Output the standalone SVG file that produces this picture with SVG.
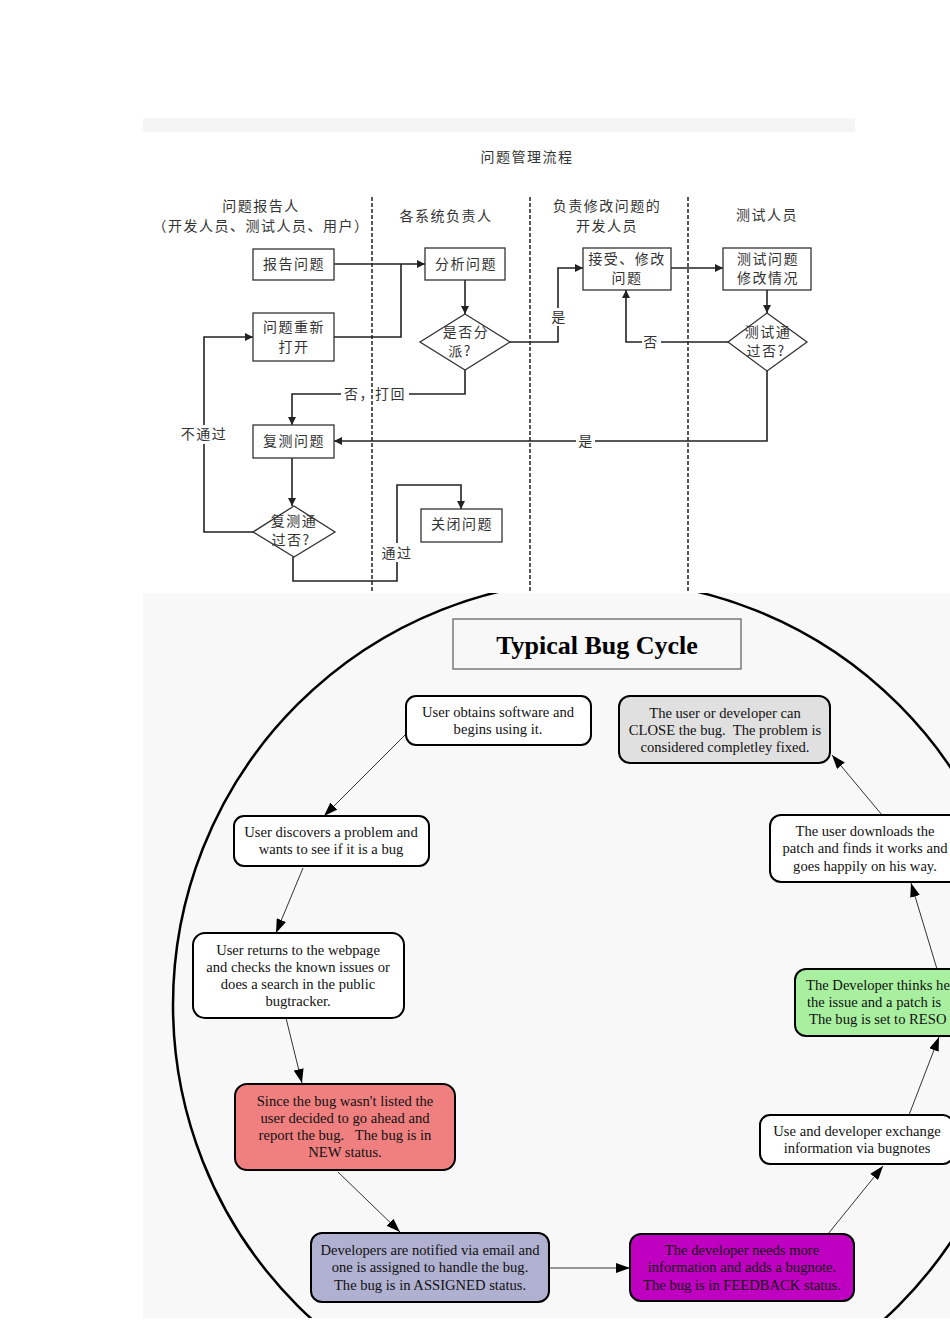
<svg xmlns="http://www.w3.org/2000/svg" width="950" height="1344" viewBox="0 0 950 1344">
<defs>
<marker id="fa" viewBox="0 0 8 8" refX="8" refY="4" markerWidth="8" markerHeight="8" markerUnits="userSpaceOnUse" orient="auto"><path d="M0,0 L8,4 L0,8 z" fill="#222"/></marker>
<marker id="ba" viewBox="0 0 14 10" refX="14" refY="5" markerWidth="14" markerHeight="10" markerUnits="userSpaceOnUse" orient="auto"><path d="M0,0 L14,5 L0,10 z" fill="#000"/></marker>
<clipPath id="bclip"><rect x="143" y="593" width="807" height="725"/></clipPath>
</defs>
<style>
.zh{font-family:"Noto Sans CJK SC","Noto Sans",sans-serif;font-size:14px;fill:#333;letter-spacing:1.5px}
.box{fill:#fff;stroke:#333;stroke-width:1.3}
.fl{fill:none;stroke:#222;stroke-width:1.6}
.lane{stroke:#222;stroke-width:1.5;stroke-dasharray:4 2}
.en{font-family:"Liberation Serif","Times New Roman",serif;font-size:14.6px;fill:#111;text-anchor:middle;white-space:pre}
.st{text-anchor:start}
.nd{stroke:#000;stroke-width:2}
.be{fill:none;stroke:#333;stroke-width:1}
</style>
<rect x="0" y="0" width="950" height="1344" fill="#fff"/>
<rect x="143" y="118" width="712" height="14" fill="#f5f5f5"/>
<text class="zh" x="527" y="162" text-anchor="middle">问题管理流程</text>

<g id="lanes">
<line class="lane" x1="372" y1="197" x2="372" y2="593"/>
<line class="lane" x1="530" y1="197" x2="530" y2="593"/>
<line class="lane" x1="688" y1="197" x2="688" y2="593"/>
<text class="zh" x="261" y="211" text-anchor="middle">问题报告人</text>
<text class="zh" x="261" y="231" text-anchor="middle">（开发人员、测试人员、用户）</text>
<text class="zh" x="446" y="221" text-anchor="middle">各系统负责人</text>
<text class="zh" x="607" y="211" text-anchor="middle">负责修改问题的</text>
<text class="zh" x="607" y="231" text-anchor="middle">开发人员</text>
<text class="zh" x="767" y="220" text-anchor="middle">测试人员</text>
</g>

<g id="flow-connectors">
<polyline class="fl" points="334,264 425,264" marker-end="url(#fa)"/>
<polyline class="fl" points="334,337 401,337 401,264"/>
<polyline class="fl" points="465,280 465,314" marker-end="url(#fa)"/>
<polyline class="fl" points="510,342 558,342 558,326"/>
<polyline class="fl" points="558,308 558,268 583,268" marker-end="url(#fa)"/>
<text class="zh" x="559" y="322" text-anchor="middle">是</text>
<polyline class="fl" points="671,268 723,268" marker-end="url(#fa)"/>
<polyline class="fl" points="767,290 767,313" marker-end="url(#fa)"/>
<polyline class="fl" points="728,342 661,342"/>
<polyline class="fl" points="642,342 626,342 626,290" marker-end="url(#fa)"/>
<text class="zh" x="651" y="347" text-anchor="middle">否</text>
<polyline class="fl" points="767,371 767,441 595,441"/>
<polyline class="fl" points="576,441 334,441" marker-end="url(#fa)"/>
<text class="zh" x="586" y="446" text-anchor="middle">是</text>
<polyline class="fl" points="465,370 465,394 409,394"/>
<polyline class="fl" points="341,394 292,394 292,425" marker-end="url(#fa)"/>
<text class="zh" x="375" y="399" text-anchor="middle">否，打回</text>
<polyline class="fl" points="292,458 292,506" marker-end="url(#fa)"/>
<polyline class="fl" points="253,532 204,532 204,444"/>
<polyline class="fl" points="204,425 204,337 253,337" marker-end="url(#fa)"/>
<text class="zh" x="204" y="439" text-anchor="middle">不通过</text>
<polyline class="fl" points="293,557 293,581 397,581 397,562"/>
<polyline class="fl" points="397,543 397,485 461,485 461,509" marker-end="url(#fa)"/>
<text class="zh" x="397" y="558" text-anchor="middle">通过</text>
</g>

<g id="n-report"><rect class="box" x="253" y="249" width="81" height="31"/><text class="zh" x="294" y="269" text-anchor="middle">报告问题</text></g>
<g id="n-reopen"><rect class="box" x="253" y="313" width="81" height="48"/><text class="zh" x="294" y="332" text-anchor="middle">问题重新</text><text class="zh" x="294" y="352" text-anchor="middle">打开</text></g>
<g id="n-analyze"><rect class="box" x="425" y="248" width="80" height="32"/><text class="zh" x="466" y="269" text-anchor="middle">分析问题</text></g>
<g id="n-assign"><polygon class="box" points="465,314 510,342 465,370 420,342"/><text class="zh" x="466" y="337" text-anchor="middle">是否分</text><text class="zh" x="460" y="356" text-anchor="middle">派?</text></g>
<g id="n-fix"><rect class="box" x="583" y="248" width="88" height="42"/><text class="zh" x="627" y="264" text-anchor="middle">接受、修改</text><text class="zh" x="627" y="283" text-anchor="middle">问题</text></g>
<g id="n-test"><rect class="box" x="723" y="248" width="88" height="42"/><text class="zh" x="768" y="264" text-anchor="middle">测试问题</text><text class="zh" x="768" y="283" text-anchor="middle">修改情况</text></g>
<g id="n-testpass"><polygon class="box" points="767,313 807,342 767,371 728,342"/><text class="zh" x="768" y="337" text-anchor="middle">测试通</text><text class="zh" x="766" y="356" text-anchor="middle">过否?</text></g>
<g id="n-retest"><rect class="box" x="253" y="425" width="81" height="33"/><text class="zh" x="294" y="446" text-anchor="middle">复测问题</text></g>
<g id="n-retestpass"><polygon class="box" points="294,506 335,532 294,557 253,532"/><text class="zh" x="294" y="526" text-anchor="middle">复测通</text><text class="zh" x="291" y="545" text-anchor="middle">过否?</text></g>
<g id="n-close"><rect class="box" x="421" y="509" width="81" height="33"/><text class="zh" x="462" y="529" text-anchor="middle">关闭问题</text></g>

<rect x="143" y="593" width="807" height="725" fill="#f8f8f8"/>
<g clip-path="url(#bclip)">
<circle cx="598" cy="1005" r="425" fill="none" stroke="#000" stroke-width="2.5"/>
</g>

<g id="title"><rect x="453" y="619" width="288" height="50" fill="none" stroke="#666" stroke-width="1.3"/><text x="597" y="654" font-family="Liberation Serif,serif" font-size="26" font-weight="bold" text-anchor="middle" fill="#000">Typical Bug Cycle</text></g>

<g id="bug-connectors">
<line class="be" x1="405" y1="735" x2="324" y2="816" marker-end="url(#ba)"/>
<line class="be" x1="303" y1="868" x2="276" y2="933" marker-end="url(#ba)"/>
<line class="be" x1="286" y1="1018" x2="302" y2="1083" marker-end="url(#ba)"/>
<line class="be" x1="338" y1="1172" x2="400" y2="1232" marker-end="url(#ba)"/>
<line class="be" x1="549" y1="1268" x2="630" y2="1268" marker-end="url(#ba)"/>
<line class="be" x1="828" y1="1234" x2="883" y2="1166" marker-end="url(#ba)"/>
<line class="be" x1="909" y1="1115" x2="939" y2="1037" marker-end="url(#ba)"/>
<line class="be" x1="937" y1="969" x2="911" y2="883" marker-end="url(#ba)"/>
<line class="be" x1="882" y1="815" x2="832" y2="755" marker-end="url(#ba)"/>
</g>

<g id="b-obtain"><rect class="nd" x="406" y="696" width="185" height="49" rx="10" fill="#fff"/><text class="en" x="498" y="717">User obtains software and</text><text class="en" x="498" y="734">begins using it.</text></g>
<g id="b-close"><rect class="nd" x="619" y="696" width="211" height="67" rx="11" fill="#e0e0e0"/><text class="en" x="725" y="718">The user or developer can</text><text class="en" x="725" y="735">CLOSE the bug.  The problem is</text><text class="en" x="725" y="752">considered completley fixed.</text></g>
<g id="b-discover"><rect class="nd" x="234" y="816" width="195" height="50" rx="10" fill="#fff"/><text class="en" x="331" y="837">User discovers a problem and</text><text class="en" x="331" y="854">wants to see if it is a bug</text></g>
<g id="b-search"><rect class="nd" x="193" y="933" width="211" height="85" rx="12" fill="#fff"/><text class="en" x="298" y="955">User returns to the webpage</text><text class="en" x="298" y="972">and checks the known issues or</text><text class="en" x="298" y="989">does a search in the public</text><text class="en" x="298" y="1006">bugtracker.</text></g>
<g id="b-download"><rect class="nd" x="770" y="815" width="190" height="67" rx="11" fill="#fff"/><text class="en" x="865" y="836">The user downloads the</text><text class="en" x="865" y="853">patch and finds it works and</text><text class="en" x="865" y="871">goes happily on his way.</text></g>
<g id="b-resolved"><rect class="nd" x="795" y="969" width="200" height="67" rx="11" fill="#a8f0a0"/><text class="en st" x="806" y="990">The Developer thinks he</text><text class="en st" x="807" y="1007">the issue and a patch is</text><text class="en st" x="809" y="1024">The bug is set to RESO</text></g>
<g id="b-exchange"><rect class="nd" x="760" y="1115" width="193" height="49" rx="10" fill="#fff"/><text class="en" x="857" y="1136">Use and developer exchange</text><text class="en" x="857" y="1153">information via bugnotes</text></g>
<g id="b-new"><rect class="nd" x="235" y="1084" width="220" height="86" rx="12" fill="#f08080"/><text class="en" x="345" y="1106">Since the bug wasn't listed the</text><text class="en" x="345" y="1123">user decided to go ahead and</text><text class="en" x="345" y="1140">report the bug.   The bug is in</text><text class="en" x="345" y="1157">NEW status.</text></g>
<g id="b-assigned"><rect class="nd" x="311" y="1233" width="238" height="69" rx="11" fill="#b0b0d0"/><text class="en" x="430" y="1255">Developers are notified via email and</text><text class="en" x="430" y="1272">one is assigned to handle the bug.</text><text class="en" x="430" y="1290">The bug is in ASSIGNED status.</text></g>
<g id="b-feedback"><rect class="nd" x="630" y="1234" width="224" height="67" rx="11" fill="#c000c0"/><text class="en" x="742" y="1255">The developer needs more</text><text class="en" x="742" y="1272">information and adds a bugnote.</text><text class="en" x="742" y="1290">The bug is in FEEDBACK status.</text></g>
</svg>
